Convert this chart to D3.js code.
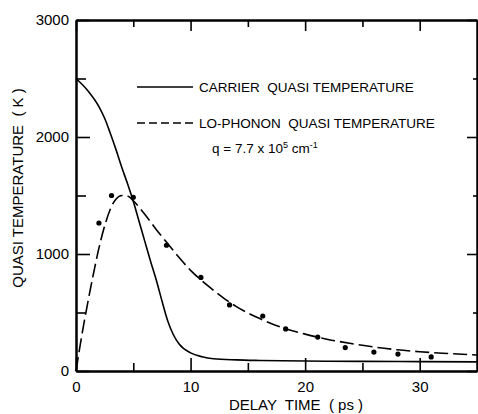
<!DOCTYPE html>
<html>
<head>
<meta charset="utf-8">
<script src="https://cdn.jsdelivr.net/npm/d3@7"></script>
<style>
  body { margin: 0; background: #fff; }
  svg text { font-family: "Liberation Sans", Arial, sans-serif; fill: #000; }
</style>
</head>
<body>
<div id="chart"></div>
<script>
// Carrier and LO-phonon quasi temperatures vs delay time

// carrier quasi temperature (solid line)
var carrierTime = [0, 1, 2, 2.5, 3, 3.5, 4, 4.5, 5, 5.5, 6, 6.5, 7, 7.5, 8, 8.5, 9, 10, 11, 12, 14, 16, 20, 25, 30, 35];
var carrierTemp = [2500, 2400, 2260, 2160, 2030, 1890, 1740, 1600, 1450, 1280, 1110, 940, 780, 600, 430, 310, 230, 155, 122, 105, 95, 90, 85, 82, 80, 78];

// LO-phonon quasi temperature (dashed line)
var phononTime = [0, 0.5, 1, 1.5, 2, 2.5, 3, 3.5, 4, 4.5, 5, 6, 7, 8, 9, 10, 11, 12, 13, 14, 16, 18, 20, 22, 24, 26, 28, 30, 32, 35];
var phononTemp = [0, 300, 570, 820, 1050, 1240, 1385, 1470, 1500, 1495, 1455, 1340, 1210, 1090, 970, 860, 770, 690, 615, 550, 450, 370, 315, 270, 235, 205, 182, 165, 152, 137];

// measured points
var dotTime = [2.0, 3.1, 5.0, 7.9, 10.9, 13.4, 16.3, 18.3, 21.1, 23.5, 26.0, 28.1, 31.0];
var dotTemp = [1265, 1500, 1485, 1075, 800, 565, 470, 360, 290, 200, 162, 145, 120];

var xMajor = [0, 10, 20, 30];
var xMinor = [5, 15, 25];
var yMajor = [0, 1000, 2000, 3000];
var yMinor = [500, 1500, 2500];

var width = 478, height = 414;
var margin = {top: 20, right: 1, bottom: 43, left: 76};

var svg = d3.select("#chart")
    .append("svg")
    .attr("width", width)
    .attr("height", height);

var x = d3.scaleLinear().domain([0, 35]).range([margin.left, width - margin.right]);
var y = d3.scaleLinear().domain([0, 3000]).range([height - margin.bottom, margin.top]);

// draws one axis, ticks pointing into the plot
function drawAxis(axis, transform, labels) {
  var g = svg.append("g")
      .attr("transform", transform)
      .call(axis);
  g.select(".domain").attr("stroke-width", 2);
  g.selectAll(".tick line").attr("stroke-width", 1.6);
  g.selectAll("text")
      .style("font-family", "'Liberation Sans', Arial, sans-serif")
      .style("font-size", "15px");
  if (!labels) g.selectAll("text").remove();
  return g;
}

var bottomY = "translate(0," + y(0) + ")";
var topY = "translate(0," + y(3000) + ")";
var leftX = "translate(" + x(0) + ",0)";
var rightX = "translate(" + x(35) + ",0)";

drawAxis(d3.axisBottom(x).tickValues(xMajor).tickFormat(d3.format("d")).tickSizeInner(-13).tickSizeOuter(0).tickPadding(10), bottomY, true);
drawAxis(d3.axisBottom(x).tickValues(xMinor).tickSizeInner(-8).tickSizeOuter(0), bottomY, false);
drawAxis(d3.axisTop(x).tickValues(xMajor).tickSizeInner(-11).tickSizeOuter(0), topY, false);
drawAxis(d3.axisTop(x).tickValues(xMinor).tickSizeInner(-7).tickSizeOuter(0), topY, false);
drawAxis(d3.axisLeft(y).tickValues(yMajor).tickFormat(d3.format("d")).tickSizeInner(-14).tickSizeOuter(0).tickPadding(7), leftX, true);
drawAxis(d3.axisLeft(y).tickValues(yMinor).tickSizeInner(-10).tickSizeOuter(0), leftX, false);
drawAxis(d3.axisRight(y).tickValues(yMajor).tickSizeInner(-10).tickSizeOuter(0), rightX, false);
drawAxis(d3.axisRight(y).tickValues(yMinor).tickSizeInner(-4).tickSizeOuter(0), rightX, false);

// curves
var carrierLine = d3.line()
    .x(function(d, i) { return x(carrierTime[i]); })
    .y(function(d) { return y(d); })
    .curve(d3.curveMonotoneX);

var phononLine = d3.line()
    .x(function(d, i) { return x(phononTime[i]); })
    .y(function(d) { return y(d); })
    .curve(d3.curveMonotoneX);

svg.append("path")
    .datum(carrierTemp)
    .attr("d", carrierLine)
    .attr("fill", "none")
    .attr("stroke", "#000")
    .attr("stroke-width", 1.6);

svg.append("path")
    .datum(phononTemp)
    .attr("d", phononLine)
    .attr("fill", "none")
    .attr("stroke", "#000")
    .attr("stroke-width", 1.6)
    .attr("stroke-dasharray", "14,5");

svg.append("g")
  .selectAll("circle")
    .data(dotTemp)
    .enter()
    .append("circle")
    .attr("cx", function(d, i) { return x(dotTime[i]); })
    .attr("cy", function(d) { return y(d); })
    .attr("r", 2.6)
    .attr("fill", "#000");

// legend
var legend = svg.append("g").style("font-size", "13.5px");

legend.append("line")
    .attr("x1", 137).attr("x2", 193)
    .attr("y1", 87).attr("y2", 87)
    .attr("stroke", "#000").attr("stroke-width", 1.6);
legend.append("text")
    .attr("x", 199).attr("y", 92)
    .attr("xml:space", "preserve")
    .text("CARRIER  QUASI TEMPERATURE");

legend.append("line")
    .attr("x1", 137).attr("x2", 193)
    .attr("y1", 123).attr("y2", 123)
    .attr("stroke", "#000").attr("stroke-width", 1.6)
    .attr("stroke-dasharray", "8,4");
legend.append("text")
    .attr("x", 199).attr("y", 128)
    .attr("xml:space", "preserve")
    .text("LO-PHONON  QUASI TEMPERATURE");

var qText = legend.append("text")
    .attr("x", 212).attr("y", 153);
qText.append("tspan").text("q = 7.7 x 10");
qText.append("tspan").attr("dy", -5).style("font-size", "9px").text("5");
qText.append("tspan").attr("dy", 5).text(" cm");
qText.append("tspan").attr("dy", -5).style("font-size", "9px").text("-1");

// axis titles
svg.append("text")
    .attr("x", 296).attr("y", 410)
    .attr("text-anchor", "middle")
    .attr("xml:space", "preserve")
    .style("font-size", "15px")
    .text("DELAY  TIME  ( ps )");

svg.append("text")
    .attr("transform", "translate(23,188) rotate(-90)")
    .attr("text-anchor", "middle")
    .attr("xml:space", "preserve")
    .style("font-size", "15px")
    .text("QUASI TEMPERATURE  ( K )");
</script>
</body>
</html>
